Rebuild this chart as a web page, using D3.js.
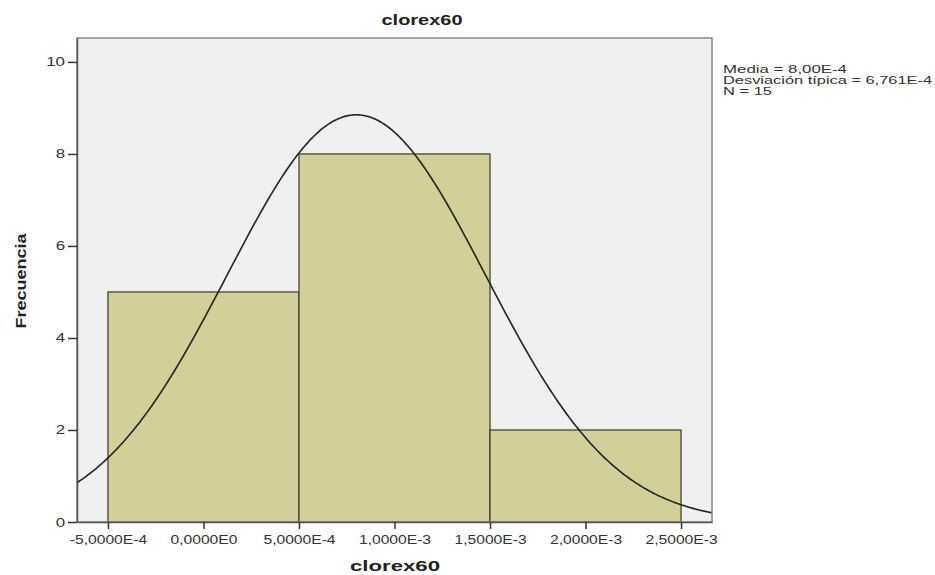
<!DOCTYPE html>
<html><head><meta charset="utf-8">
<script src="https://cdn.jsdelivr.net/npm/d3@7"></script>
<style>body{margin:0;background:#fff}svg{display:block}text{font-family:"Liberation Sans",Arial,sans-serif}</style>
</head><body><svg id="c" width="935" height="575"></svg>
<script>
const binStarts = [-5e-4, 5e-4, 1.5e-3];
const binEnds = [5e-4, 1.5e-3, 2.5e-3];
const counts = [5, 8, 2];
const xTicks = [-5e-4, 0, 5e-4, 1e-3, 1.5e-3, 2e-3, 2.5e-3];
const xTickLabels = ["-5,0000E-4","0,0000E0","5,0000E-4","1,0000E-3","1,5000E-3","2,0000E-3","2,5000E-3"];
const yTicks = [0, 2, 4, 6, 8, 10];
const statsLines = ["Media = 8,00E-4", "Desviación típica = 6,761E-4", "N = 15"];
const mean = 8.0e-4, sd = 6.761e-4, n = 15, binWidth = 1e-3;

const svg = d3.select("#c");
const L = 77, R = 712, T = 38, B = 522;
const x = d3.scaleLinear().domain([-6.62e-4, 2.662e-3]).range([L, R]);
const y = d3.scaleLinear().domain([0, 10.52]).range([B, T]);

function stretch(sel, f) {
  sel.each(function () {
    const w = this.getComputedTextLength();
    d3.select(this).attr("textLength", w * f).attr("lengthAdjust", "spacingAndGlyphs");
  });
}

svg.append("rect").attr("x", L).attr("y", T).attr("width", R - L).attr("height", B - T)
  .attr("fill", "#f0f0f0").attr("stroke", "none");

svg.append("g").selectAll("rect").data(counts).join("rect")
  .attr("x", (d, i) => x(binStarts[i])).attr("width", (d, i) => x(binEnds[i]) - x(binStarts[i]))
  .attr("y", d => y(d)).attr("height", d => y(0) - y(d))
  .attr("fill", "#d3cf98").attr("stroke", "#3a3a2a").attr("stroke-width", 1.2);

const pts = d3.range(0, 301).map(i => {
  const xv = x.domain()[0] + (x.domain()[1] - x.domain()[0]) * i / 300;
  const yv = n * binWidth / (sd * Math.sqrt(2 * Math.PI)) * Math.exp(-0.5 * ((xv - mean) / sd) ** 2);
  return [xv, yv];
});
svg.append("path").datum(pts)
  .attr("d", d3.line().x(d => x(d[0])).y(d => y(d[1])).curve(d3.curveBasis))
  .attr("fill", "none").attr("stroke", "#222").attr("stroke-width", 1.6);

svg.append("rect").attr("x", L).attr("y", T).attr("width", R - L).attr("height", B - T)
  .attr("fill", "none").attr("stroke", "#888").attr("stroke-width", 1.5);

const yAx = svg.append("g").attr("transform", `translate(${L},0)`)
  .call(d3.axisLeft(y).tickValues(yTicks).tickSize(9).tickPadding(3).tickSizeOuter(0));
yAx.select(".domain").attr("stroke", "#555").attr("stroke-width", 1.5);
yAx.selectAll(".tick line").attr("stroke", "#333").attr("stroke-width", 1.5);
yAx.selectAll("text").attr("font-size", 12.5).attr("fill", "#333").call(stretch, 1.35);

const xAx = svg.append("g").attr("transform", `translate(0,${B})`)
  .call(d3.axisBottom(x).tickValues(xTicks).tickFormat((d, i) => xTickLabels[i]).tickSize(7).tickPadding(6).tickSizeOuter(0));
xAx.select(".domain").attr("stroke", "#555").attr("stroke-width", 1.5);
xAx.selectAll(".tick line").attr("stroke", "#333").attr("stroke-width", 1.5);
xAx.selectAll("text").attr("font-size", 12.5).attr("fill", "#333").call(stretch, 1.25);

svg.append("text").attr("x", 422).attr("y", 25).attr("text-anchor", "middle")
  .attr("font-size", 15).attr("font-weight", "bold").attr("fill", "#222")
  .attr("textLength", 81).attr("lengthAdjust", "spacingAndGlyphs").text("clorex60");
svg.append("text").attr("x", 395).attr("y", 571).attr("text-anchor", "middle")
  .attr("font-size", 15).attr("font-weight", "bold").attr("fill", "#222")
  .attr("textLength", 90).attr("lengthAdjust", "spacingAndGlyphs").text("clorex60");
svg.append("text").attr("transform", "translate(26,281) rotate(-90)").attr("text-anchor", "middle")
  .attr("font-size", 14).attr("font-weight", "bold").attr("fill", "#222")
  .attr("textLength", 95).attr("lengthAdjust", "spacingAndGlyphs").text("Frecuencia");

const legendW = [124, 209, 49];
svg.append("g").selectAll("text").data(statsLines).join("text")
  .attr("x", 723).attr("y", (d, i) => 73 + i * 11)
  .attr("font-size", 11.5).attr("fill", "#333")
  .attr("textLength", (d, i) => legendW[i]).attr("lengthAdjust", "spacingAndGlyphs")
  .text(d => d);
</script></body></html>
